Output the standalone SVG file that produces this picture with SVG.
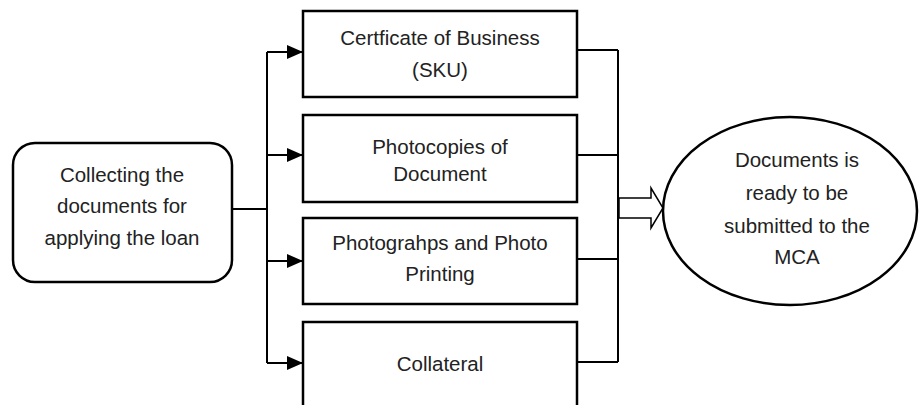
<svg xmlns="http://www.w3.org/2000/svg" width="919" height="405" viewBox="0 0 919 405">
<style>
.n{fill:#fff;stroke:#000;stroke-width:2.5}
.t{font-family:"Liberation Sans",Arial,sans-serif;font-size:20.5px;fill:#222;text-anchor:middle}
.c{fill:none;stroke:#000;stroke-width:2}
</style>
<defs>
<marker id="ah" markerWidth="16" markerHeight="14" refX="16" refY="7" orient="auto" markerUnits="userSpaceOnUse">
<path d="M0,0 L16,7 L0,14 Z" fill="#000"/>
</marker>
</defs>
<g id="connectors">
<path class="c" d="M232,209 H267"/>
<path class="c" d="M267,52 V363"/>
<path class="c" d="M267,52 H303" marker-end="url(#ah)"/>
<path class="c" d="M267,155 H303" marker-end="url(#ah)"/>
<path class="c" d="M267,261 H303" marker-end="url(#ah)"/>
<path class="c" d="M267,363 H303" marker-end="url(#ah)"/>
<path class="c" d="M577,50 H618 M577,155 H618 M577,259 H618 M577,362 H618 M618,50 V362"/>
<path d="M619,198 H651 V188 L663,208 L651,228 V218 H619 Z" fill="#fff" stroke="#000" stroke-width="1.5"/>
</g>
<g id="start">
<rect class="n" x="13" y="143" width="219" height="139" rx="22"/>
<text class="t" x="122" y="182">Collecting the</text>
<text class="t" x="122" y="213">documents for</text>
<text class="t" x="122" y="245">applying the loan</text>
</g>
<g id="sku">
<rect class="n" x="303" y="11" width="274" height="86"/>
<text class="t" x="440" y="45">Certficate of Business</text>
<text class="t" x="440" y="77">(SKU)</text>
</g>
<g id="photocopies">
<rect class="n" x="303" y="115" width="274" height="87"/>
<text class="t" x="440" y="154">Photocopies of</text>
<text class="t" x="440" y="181">Document</text>
</g>
<g id="photographs">
<rect class="n" x="303" y="218" width="274" height="86"/>
<text class="t" x="440" y="250">Photograhps and Photo</text>
<text class="t" x="440" y="281">Printing</text>
</g>
<g id="collateral">
<rect class="n" x="303" y="322" width="274" height="95"/>
<text class="t" x="440" y="371">Collateral</text>
</g>
<g id="ready">
<ellipse class="n" cx="790" cy="211" rx="127" ry="94"/>
<text class="t" x="797" y="167">Documents is</text>
<text class="t" x="797" y="200">ready to be</text>
<text class="t" x="797" y="233">submitted to the</text>
<text class="t" x="797" y="264">MCA</text>
</g>
</svg>
